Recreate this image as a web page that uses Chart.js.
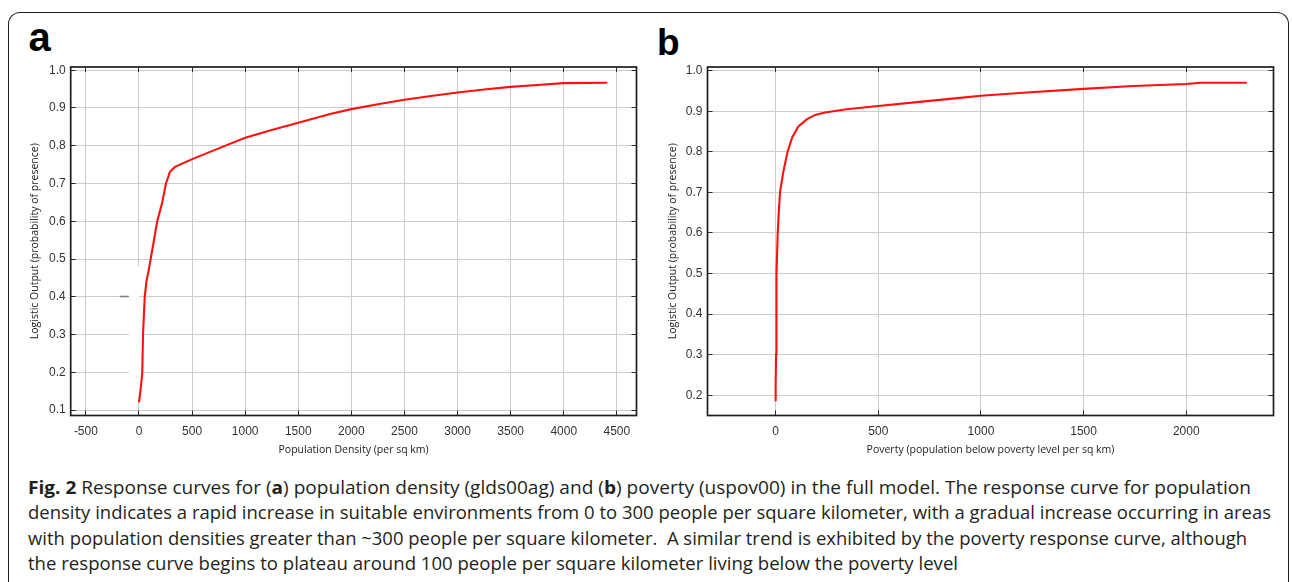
<!DOCTYPE html>
<html>
<head>
<meta charset="utf-8">
<script src="https://cdn.jsdelivr.net/npm/chart.js@4.4.1/dist/chart.umd.min.js"></script>
<style>
  html, body { margin: 0; padding: 0; background: #fff; width: 1292px; height: 582px; overflow: hidden; }
  #box { position: absolute; left: 8px; top: 12px; width: 1279px; height: 700px;
         border: 1.7px solid #1e1e1e; border-bottom: none; border-radius: 12px 12px 0 0; }
  canvas { position: absolute; top: 0; }
  #ca { left: 0; }
  #cb { left: 646px; }
  .lbl { position: absolute; font-family: "Liberation Sans", Arial, sans-serif; font-weight: bold; line-height: 1; color: #000; }
  #cap { position: absolute; left: 28px; top: 474px; font-family: "Open Sans", sans-serif; font-size: 18.5px; color: #231f20; }
  #cap .ln { height: 25.3px; line-height: 25.3px; white-space: nowrap; }
  #cap .ln span { display: inline-block; transform-origin: 0 50%; }
</style>
</head>
<body>
<div id="box"></div>
<div class="lbl" style="left:28.5px; top:16.5px; font-size:40px;">a</div>
<div class="lbl" style="left:657px; top:23.5px; font-size:37px;">b</div>
<canvas id="ca" width="646" height="470"></canvas>
<canvas id="cb" width="646" height="470"></canvas>
<div id="cap">
  <div class="ln"><span data-w="1223"><b>Fig. 2</b> Response curves for (<b>a</b>) population density (glds00ag) and (<b>b</b>) poverty (uspov00) in the full model. The response curve for population</span></div>
  <div class="ln"><span data-w="1243">density indicates a rapid increase in suitable environments from 0 to 300 people per square kilometer, with a gradual increase occurring in areas</span></div>
  <div class="ln"><span data-w="1219">with population densities greater than ~300 people per square kilometer.&nbsp; A similar trend is exhibited by the poverty response curve, although</span></div>
  <div class="ln"><span data-w="930">the response curve begins to plateau around 100 people per square kilometer living below the poverty level</span></div>
</div>
<script>
// ---- Data ----
const densityX = [0, 22, 31, 38, 54, 70, 91, 110, 125, 141, 172, 219, 254, 292, 339, 496, 750, 1000, 1250, 1500, 1800, 2000, 2250, 2500, 2750, 3000, 3250, 3500, 3750, 4000, 4410];
const densityY = [0.12, 0.171, 0.20, 0.30, 0.40, 0.44, 0.47, 0.50, 0.524, 0.55, 0.60, 0.65, 0.70, 0.731, 0.744, 0.764, 0.793, 0.821, 0.842, 0.861, 0.884, 0.897, 0.91, 0.922, 0.932, 0.941, 0.949, 0.956, 0.961, 0.966, 0.967];

const povertyX = [0, 0, 2, 3, 5, 10, 15, 21, 37, 58, 81, 110, 151, 192, 240, 346, 500, 700, 898, 1000, 1222, 1500, 1742, 2000, 2070, 2295];
const povertyY = [0.185, 0.226, 0.30, 0.40, 0.50, 0.60, 0.65, 0.70, 0.75, 0.80, 0.836, 0.862, 0.88, 0.891, 0.897, 0.905, 0.913, 0.923, 0.933, 0.938, 0.946, 0.955, 0.962, 0.967, 0.970, 0.970];

const xTicksA = [-500, 0, 500, 1000, 1500, 2000, 2500, 3000, 3500, 4000, 4500];
const yTicksA = [0.1, 0.2, 0.3, 0.4, 0.5, 0.6, 0.7, 0.8, 0.9, 1.0];
const xTicksB = [0, 500, 1000, 1500, 2000];
const yTicksB = [0.2, 0.3, 0.4, 0.5, 0.6, 0.7, 0.8, 0.9, 1.0];

const xTitleA = 'Population Density (per sq km)';
const xTitleB = 'Poverty (population below poverty level per sq km)';
const yTitle = 'Logistic Output (probability of presence)';

// ---- Helpers ----
const tickFont = { family: '"Liberation Sans", Arial, sans-serif', size: 12 };
const titleFont = { family: '"Open Sans", sans-serif', size: 10.5 };
const GRID = '#cdcdcd';

const framePlugin = {
  id: 'frame',
  afterDraw(chart) {
    const { ctx, chartArea: { left, right, top, bottom }, scales: { x, y } } = chart;
    const L = 5;
    ctx.save();
    ctx.strokeStyle = '#2a2a2a';
    ctx.lineWidth = 1;
    ctx.beginPath();
    x.ticks.forEach(t => {
      const px = Math.round(x.getPixelForValue(t.value) - 0.5) + 0.5;
      ctx.moveTo(px, top); ctx.lineTo(px, top + L);
      ctx.moveTo(px, bottom); ctx.lineTo(px, bottom - L);
    });
    y.ticks.forEach(t => {
      const py = Math.round(y.getPixelForValue(t.value) - 0.5) + 0.5;
      ctx.moveTo(left, py); ctx.lineTo(left + L, py);
      ctx.moveTo(right, py); ctx.lineTo(right - L, py);
    });
    ctx.stroke();
    ctx.lineWidth = 1.7;
    ctx.strokeStyle = '#1e1e1e';
    ctx.strokeRect(left, top, right - left, bottom - top);
    ctx.restore();
  }
};

// small erased patch near x=0 visible in panel (a) of the reference
const patchPlugin = {
  id: 'patchA',
  beforeDatasetsDraw(chart) {
    const { ctx, scales: { x, y } } = chart;
    const x0 = x.getPixelForValue(-95), x1 = x.getPixelForValue(25);
    const y0 = y.getPixelForValue(0.48), y1 = y.getPixelForValue(0.125);
    ctx.save();
    ctx.fillStyle = '#fff';
    ctx.fillRect(x0, y0, x1 - x0, y1 - y0);
    const py = Math.round(y.getPixelForValue(0.4) - 0.5) + 0.5;
    ctx.strokeStyle = GRID; ctx.lineWidth = 1;
    ctx.beginPath(); ctx.moveTo(x.getPixelForValue(0), py); ctx.lineTo(x1, py); ctx.stroke();
    ctx.strokeStyle = '#808080'; ctx.lineWidth = 1.6;
    ctx.beginPath(); ctx.moveTo(x.getPixelForValue(-180), py); ctx.lineTo(x0, py); ctx.stroke();
    ctx.restore();
  }
};

function makeChart(id, xs, ys, cfg) {
  const pts = xs.map((v, i) => ({ x: v, y: ys[i] }));
  return new Chart(document.getElementById(id), {
    type: 'scatter',
    data: { datasets: [{ data: pts, showLine: true, borderColor: '#ff1010', borderWidth: 2.1,
                         pointRadius: 0, tension: 0, fill: false }] },
    plugins: cfg.plugins,
    options: {
      responsive: false, animation: false, devicePixelRatio: 1,
      layout: { padding: { left: 0, top: 67, right: cfg.padRight, bottom: 0 } },
      plugins: { legend: { display: false }, tooltip: { enabled: false } },
      scales: {
        x: {
          type: 'linear', position: 'bottom', min: cfg.xMin, max: cfg.xMax,
          afterBuildTicks: s => { s.ticks = cfg.xTicks.map(v => ({ value: v })); },
          afterFit: s => { s.height = 470 - 415.5; },
          grid: { color: GRID, lineWidth: 1, drawTicks: false },
          border: { display: false },
          ticks: { autoSkip: false, maxRotation: 0, padding: 9, font: tickFont, color: '#333',
                   callback: v => String(v) },
          title: { display: true, text: cfg.xTitle, font: titleFont, color: '#222',
                   padding: { top: 0, bottom: 13.5 } }
        },
        y: {
          type: 'linear', position: 'left', min: cfg.yMin, max: cfg.yMax,
          afterBuildTicks: s => { s.ticks = cfg.yTicks.map(v => ({ value: v })); },
          afterFit: s => { s.width = cfg.yWidth; },
          grid: { color: GRID, lineWidth: 1, drawTicks: false },
          border: { display: false },
          ticks: { autoSkip: false, padding: 5, font: tickFont, color: '#333',
                   callback: v => Number(v).toFixed(1) },
          title: { display: true, text: yTitle, font: titleFont, color: '#222',
                   padding: { top: cfg.yTitlePad, bottom: 0 } }
        }
      }
    }
  });
}

makeChart('ca', densityX, densityY, {
  xMin: -643, xMax: 4685, yMin: 0.0855, yMax: 1.0086,
  xTicks: xTicksA, yTicks: yTicksA, xTitle: xTitleA,
  padRight: 646 - 636.5, yWidth: 70.7, yTitlePad: 28.5,
  plugins: [patchPlugin, framePlugin]
});

makeChart('cb', povertyX, povertyY, {
  xMin: -332, xMax: 2425, yMin: 0.150, yMax: 1.009,
  xTicks: xTicksB, yTicks: yTicksB, xTitle: xTitleB,
  padRight: 646 - (1273.5 - 646), yWidth: 707.5 - 646, yTitlePad: 21,
  plugins: [framePlugin]
});

// fit caption lines to the reference line widths
document.querySelectorAll('#cap .ln span').forEach(sp => {
  const w = sp.getBoundingClientRect().width;
  const target = parseFloat(sp.dataset.w);
  sp.style.transform = 'scaleX(' + (target / w).toFixed(4) + ')';
});
</script>
</body>
</html>
